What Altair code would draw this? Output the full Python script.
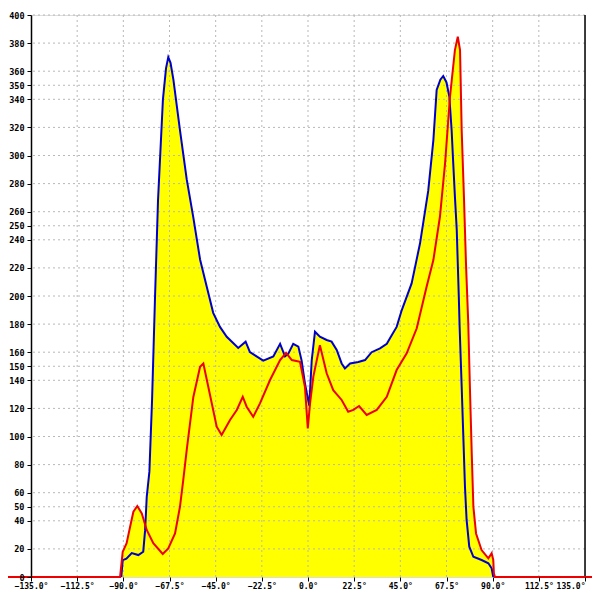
import altair as alt
import numpy as np
import pandas as pd

# ---- data ----
blue_x = [-91.0, -90.3, -88.5, -85.9, -82.7, -80.3, -79.4, -78.6, -77.3, -76.0, -74.6, -73.1,
          -70.7, -69.2, -68.1, -67.0, -65.6, -62.4, -59.1, -55.9, -52.6, -49.4, -46.2, -42.9,
          -39.6, -34.0, -30.4, -28.3, -21.8, -16.9, -13.6, -11.2, -9.6, -7.2, -4.7, -3.1, -1.5,
          0.6, 1.8, 3.4, 5.8, 9.1, 11.5, 14.0, 16.4, 18.0, 20.5, 24.5, 27.8, 31.0, 35.1, 38.4,
          40.8, 43.2, 45.7, 50.5, 54.6, 58.6, 61.1, 62.7, 64.5, 65.9, 67.5, 68.9, 70.0, 70.8,
          71.6, 72.5, 73.0, 73.5, 73.9, 74.9, 75.7, 76.5, 77.3, 78.6, 80.6, 84.6, 87.9, 89.5, 90.3]
blue_y = [0, 12, 13, 17, 15.6, 18, 33, 57, 75, 126, 197, 268,
          340, 362, 370, 366, 354, 318, 283, 256, 226, 207, 188, 178,
          171, 163, 167.5, 160, 154, 157, 166, 157, 159, 166, 164, 154, 138,
          122, 154, 174.6, 171, 168.7, 167.5, 161.6, 152, 148.5, 152, 153, 154.4, 160, 162.7, 166,
          172, 178, 190, 209, 237.5, 275, 311, 346.6, 354, 356.6, 352, 341.8, 318, 294,
          270.7, 247, 223, 199.5, 178, 135.4, 99.9, 64.3, 40.6, 21.6, 14.4, 12.1, 9.8, 6.2, 0]

red_x = [-150, -91.6, -90.3, -88.4, -86.7, -85.1, -83.2, -81.0, -78.6, -75.4, -70.8, -68.1,
         -64.8, -62.4, -60.8, -59.1, -55.9, -52.6, -51.0, -48.6, -44.5, -42.1, -38.0, -34.7,
         -31.8, -29.9, -26.7, -23.4, -18.5, -13.6, -10.7, -7.9, -3.9, -1.5, -0.1, 1.0, 2.6,
         5.8, 9.1, 12.3, 16.4, 19.6, 22.1, 24.9, 28.6, 33.5, 38.4, 43.2, 48.1, 53.0, 57.8,
         61.1, 64.3, 66.8, 69.2, 71.6, 73.0, 74.1, 74.9, 76.0, 77.0, 78.1, 78.9, 79.8, 80.6,
         81.9, 84.6, 87.9, 89.5, 90.3, 90.6, 91.1, 150]
red_y = [0, 0, 18, 24, 35.8, 46.5, 50.5, 45.3, 33.5, 24, 16.4, 20.4,
         31, 50, 69, 90.4, 128, 149.7, 152, 135.4, 107, 101, 111.7, 118.9,
         128.3, 121.2, 114, 123.6, 140.2, 154.4, 159.6, 154.4, 153.2, 135.4, 105.8, 123.6, 142.6,
         165, 145, 133, 126, 117.6, 118.9, 121.7, 115.3, 118.9, 128.3, 147.3, 159.2, 177, 206.6,
         225.6, 256.4, 294.4, 341.8, 375, 384.5, 375, 318, 270.7, 223, 181, 135.4, 88, 50,
         31, 19.2, 13.3, 16.9, 12.1, 2.6, 0, 0]

x_ticks = [-135, -112.5, -90, -67.5, -45, -22.5, 0, 22.5, 45, 67.5, 90, 112.5, 135]
y_ticks = [0, 20, 40, 50, 60, 80, 100, 120, 140, 150, 160, 180, 200, 220, 240, 250, 260,
           280, 300, 320, 340, 350, 360, 380, 400]

# ---- tables ----
blue_df = pd.DataFrame({"x": blue_x, "y": blue_y})
red_df = pd.DataFrame({"x": red_x, "y": red_y})
grid_x = np.union1d(np.union1d(blue_x, red_x), np.arange(-92, 92.01, 0.25))
grid_x = grid_x[(grid_x >= -92) & (grid_x <= 92)]
fill_y = np.maximum(np.interp(grid_x, blue_x, blue_y, left=0, right=0),
                    np.interp(grid_x, red_x, red_y, left=0, right=0))
fill_df = pd.DataFrame({"x": grid_x, "y": fill_y})
xt_df = pd.DataFrame({"x": x_ticks})
yt_df = pd.DataFrame({"y": [v for v in y_ticks if v > 0]})

FONT = "DejaVu Sans Mono"
xs = alt.Scale(domain=[-135, 135], nice=False, zero=False)
ys = alt.Scale(domain=[0, 400], nice=False)

x_axis = alt.Axis(values=x_ticks, labelExpr="format(datum.value, '.1f') + '°'",
                  domain=False, grid=False, tickColor="black", tickSize=4,
                  labelFont=FONT, labelFontSize=8, labelFontWeight="bold", labelColor="black",
                  labelPadding=1, labelOverlap=False, labelFlush=False, title=None, zindex=1,
                  labelAlign=alt.condition("datum.value == 135", alt.value("right"),
                                           alt.value("center")))
y_axis = alt.Axis(values=y_ticks, domain=True, domainColor="black", domainWidth=1.5,
                  grid=False, tickColor="black", tickSize=4, labelFont=FONT,
                  labelFontSize=8.5, labelFontWeight="bold", labelColor="black",
                  labelPadding=3, labelOverlap=False, title=None, zindex=1)

X = alt.X("x:Q", scale=xs, axis=x_axis)
Y = alt.Y("y:Q", scale=ys, axis=y_axis)

area = alt.Chart(fill_df).mark_area(color="#FFFF00", opacity=1).encode(x=X, y=Y)

hgrid = alt.Chart(yt_df).mark_rule(color="#b8b8b8", strokeDash=[2, 3], strokeWidth=1).encode(
    y=Y
)
vgrid = alt.Chart(xt_df).transform_filter("abs(datum.x) < 130").mark_rule(
    color="#b8b8b8", strokeDash=[2, 3], strokeWidth=1).encode(x=X)
right_edge = alt.Chart(xt_df).transform_filter("datum.x == 135").mark_rule(
    color="black", strokeWidth=1.5).encode(x=X)

blue = alt.Chart(blue_df).mark_line(color="#0000CC", strokeWidth=2).encode(x=X, y=Y)
red = alt.Chart(red_df).mark_line(color="#EE0000", strokeWidth=2, clip=False).encode(x=X, y=Y)

chart = alt.layer(area, hgrid, vgrid, right_edge, blue, red).properties(
    width=554, height=562,
    autosize=alt.AutoSizeParams(type="none"),
    padding={"left": 23, "top": 7, "right": 7, "bottom": 15},
).configure_view(stroke=None).configure(background="white")

chart.save("out.html", embed_options={"renderer": "svg", "actions": False})
